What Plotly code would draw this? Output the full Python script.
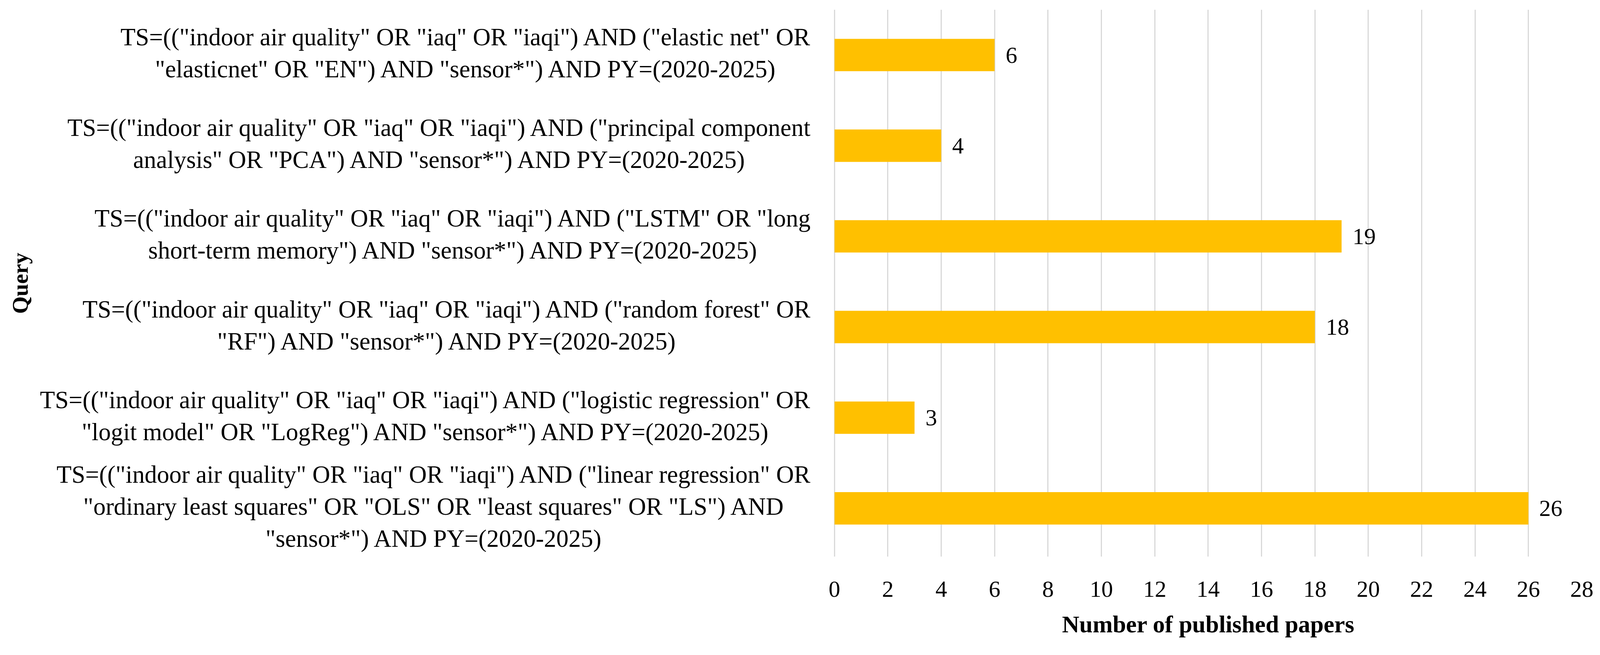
import plotly.graph_objects as go

# queries listed top to bottom, as in the figure
queries = [
    'TS=(("indoor air quality" OR "iaq" OR "iaqi") AND ("elastic net" OR<br>"elasticnet" OR "EN") AND "sensor*") AND PY=(2020-2025)',
    'TS=(("indoor air quality" OR "iaq" OR "iaqi") AND ("principal component<br>analysis" OR "PCA") AND "sensor*") AND PY=(2020-2025)',
    'TS=(("indoor air quality" OR "iaq" OR "iaqi") AND ("LSTM" OR "long<br>short-term memory") AND "sensor*") AND PY=(2020-2025)',
    'TS=(("indoor air quality" OR "iaq" OR "iaqi") AND ("random forest" OR<br>"RF") AND "sensor*") AND PY=(2020-2025)',
    'TS=(("indoor air quality" OR "iaq" OR "iaqi") AND ("logistic regression" OR<br>"logit model" OR "LogReg") AND "sensor*") AND PY=(2020-2025)',
    'TS=(("indoor air quality" OR "iaq" OR "iaqi") AND ("linear regression" OR<br>"ordinary least squares" OR "OLS" OR "least squares" OR "LS") AND<br>"sensor*") AND PY=(2020-2025)',
]
papers = [6, 4, 19, 18, 3, 26]
x_ticks = list(range(0, 29, 2))

W, H = 4132, 1677
FONT = "Palatino Linotype, Book Antiqua, Palatino, Liberation Serif, serif"
SIZE = 58
TICK_SIZE = 60
TITLE_SIZE = 62
LABEL_SIZE = 63.5

fig = go.Figure()
fig.add_trace(go.Bar(
    x=papers,
    y=queries,
    orientation='h',
    marker=dict(color='#FFC000', line=dict(width=0)),
    hoverinfo='x',
))

# category labels (centred lines, right edge next to the plot)
for q in queries:
    fig.add_annotation(
        x=0, xref='paper', y=q, yref='y',
        text=q, showarrow=False,
        xanchor='right', yanchor='middle', align='center',
        xshift=-60, yshift=5,
        font=dict(family=FONT, size=LABEL_SIZE, color='black'),
    )

# value labels
for q, v in zip(queries, papers):
    fig.add_annotation(
        x=v, y=q, text=str(v), showarrow=False,
        xanchor='left', yanchor='middle', xshift=26,
        font=dict(family=FONT, size=TICK_SIZE, color='black'),
    )

fig.add_annotation(
    x=0, xref='paper', y=0.5, yref='paper',
    text='<b>Query</b>', showarrow=False, textangle=-90,
    xanchor='center', yanchor='middle', xshift=-2103,
    font=dict(family=FONT, size=SIZE, color='black'),
)

fig.update_layout(
    width=W, height=H,
    margin=dict(l=2155, r=47, t=25, b=239),
    plot_bgcolor='white', paper_bgcolor='white',
    bargap=0.643,
    showlegend=False,
    font=dict(family=FONT, size=SIZE, color='black'),
)
fig.update_xaxes(
    range=[0, 28], tickvals=x_ticks,
    showgrid=True, gridcolor='#d9d9d9', gridwidth=3,
    zeroline=True, zerolinecolor='#d9d9d9', zerolinewidth=3,
    showline=False, ticks='', ticklabelstandoff=42,
    tickfont=dict(family=FONT, size=TICK_SIZE, color='black'),
    title=dict(text='<b>Number of published papers</b>', standoff=36,
               font=dict(family=FONT, size=TITLE_SIZE, color='black')),
)
fig.update_yaxes(
    autorange='reversed', showticklabels=False, showgrid=False,
    zeroline=False, showline=False, ticks='',
)

# no page margin or scrollbars; shrink the figure if the viewport is a bit smaller
fit_js = (
    "document.documentElement.style.overflow='hidden';"
    "document.body.style.margin='0';document.body.style.overflow='hidden';"
    "var gd=document.getElementById('{plot_id}');"
    "var s=Math.min(window.innerWidth/%d, window.innerHeight/%d, 1);"
    "gd.style.transformOrigin='0 0';gd.style.transform='scale('+s+')';" % (W, H)
)
fig.write_html("out.html", config={'displayModeBar': False}, post_script=fit_js)
